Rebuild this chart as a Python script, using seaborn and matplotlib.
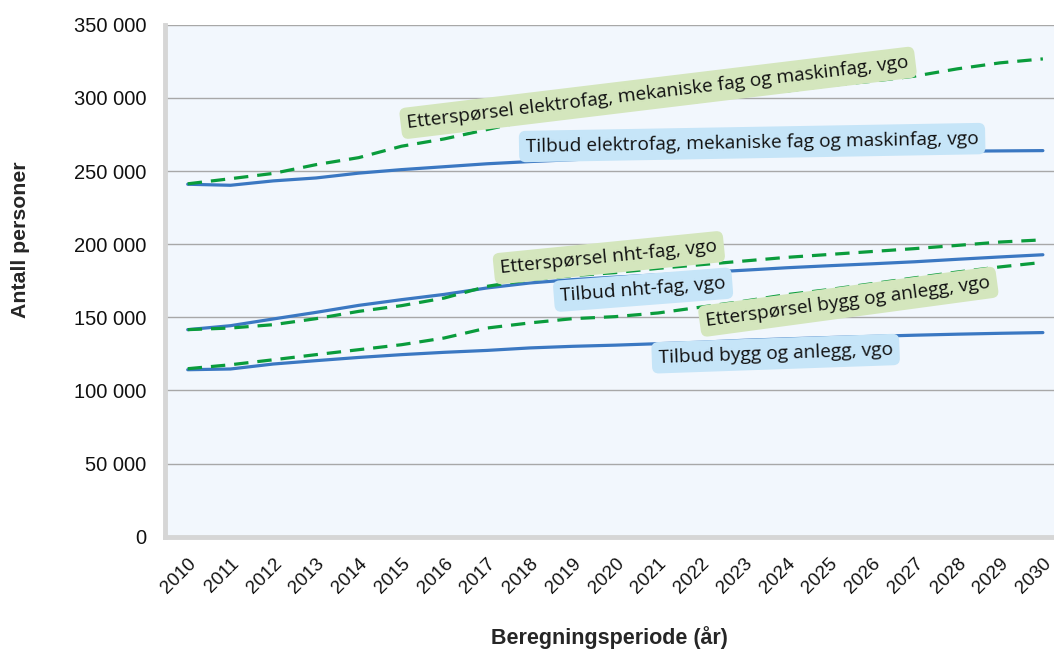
import numpy as np
import pandas as pd
import seaborn as sns
import matplotlib

matplotlib.use("Agg")
import matplotlib.pyplot as plt
from matplotlib.ticker import FuncFormatter

years = [str(y) for y in range(2010, 2031)]

tilbud_elektro = [241000, 240300, 243300, 245300, 248600, 251000, 253000, 255000, 256500, 257800,
                  259100, 260000, 260800, 261500, 262100, 262600, 263000, 263300, 263600, 263800, 264000]
ettersp_elektro = [241300, 244800, 248400, 254400, 259200, 267000, 272000, 278400, 285000, 288600,
                   291200, 294800, 297800, 302300, 304700, 308500, 311400, 314900, 319900, 324000, 326700]
tilbud_nht = [141600, 144300, 148900, 153400, 158200, 162100, 165700, 170100, 173500, 175800,
              177500, 179100, 180600, 182200, 183900, 185300, 186600, 188000, 189700, 191300, 192800]
ettersp_nht = [141600, 142700, 145000, 149100, 154100, 158000, 163200, 171200, 175800, 178500,
               180600, 183500, 186000, 188500, 191000, 193000, 195000, 197000, 199200, 201500, 203000]
tilbud_bygg = [114200, 114700, 118100, 120400, 122600, 124500, 126100, 127400, 129100, 130200,
               131000, 132000, 133000, 134300, 135300, 136200, 137000, 137800, 138500, 139100, 139600]
ettersp_bygg = [114900, 117600, 121000, 124500, 127900, 131300, 135900, 142700, 146200, 149100,
                150500, 153000, 157000, 161000, 165500, 169000, 173000, 177000, 181000, 184500, 187600]

series = [
    ("Tilbud elektrofag, mekaniske fag og maskinfag, vgo", tilbud_elektro, "tilbud"),
    ("Etterspørsel elektrofag, mekaniske fag og maskinfag, vgo", ettersp_elektro, "ettersp"),
    ("Tilbud nht-fag, vgo", tilbud_nht, "tilbud"),
    ("Etterspørsel nht-fag, vgo", ettersp_nht, "ettersp"),
    ("Tilbud bygg og anlegg, vgo", tilbud_bygg, "tilbud"),
    ("Etterspørsel bygg og anlegg, vgo", ettersp_bygg, "ettersp"),
]

# label placement: (x index, y value, rotation)
label_pos = {
    "Etterspørsel elektrofag, mekaniske fag og maskinfag, vgo": (11.0, 303500, 6.9),
    "Tilbud elektrofag, mekaniske fag og maskinfag, vgo": (13.2, 269500, 1.0),
    "Etterspørsel nht-fag, vgo": (9.85, 190800, 5.7),
    "Tilbud nht-fag, vgo": (10.65, 168900, 4.4),
    "Etterspørsel bygg og anlegg, vgo": (15.45, 160700, 7.7),
    "Tilbud bygg og anlegg, vgo": (13.75, 125200, 2.0),
}

BLUE = "#3b78c2"
GREEN = "#0a9c3c"
BOX = {"tilbud": "#c6e5f8", "ettersp": "#d4e6bd"}

sns.set_theme(style="white")
plt.rcParams["font.family"] = ["Liberation Sans", "DejaVu Sans"]

fig = plt.figure(figsize=(10.54, 6.53), dpi=100)
ax = fig.add_axes([0.157, 0.178, 0.843, 0.784])
ax.set_facecolor("#f2f7fd")

idx = np.arange(len(years))
for name, values, kind in series:
    df = pd.DataFrame({"x": idx, "y": values})
    sns.lineplot(data=df, x="x", y="y", ax=ax, color=BLUE if kind == "tilbud" else GREEN,
                 linewidth=2.3, sort=False)
    if kind == "ettersp":
        ax.lines[-1].set_dashes([4.5, 2.8])

for name, values, kind in series:
    lx, ly, rot = label_pos[name]
    ax.text(lx, ly, name, rotation=rot, rotation_mode="anchor",
            ha="center", va="center", fontsize=13.8, family=["Open Sans", "DejaVu Sans"],
            color="#111111", zorder=5,
            bbox=dict(boxstyle="round,pad=0.35,rounding_size=0.35", fc=BOX[kind], ec="none"))

ax.set_xlim(-0.52, 20.26)
ax.set_ylim(0, 350000)
ax.set_yticks(np.arange(0, 350001, 50000))
ax.yaxis.set_major_formatter(FuncFormatter(lambda v, p: f"{int(v):,}".replace(",", " ")))
ax.set_xticks(idx)
ax.set_xticklabels(years, rotation=45, ha="right", rotation_mode="anchor")
ax.tick_params(axis="y", labelsize=14.5, length=0, colors="#111111", pad=14)
ax.tick_params(axis="x", labelsize=13.6, length=0, colors="#111111", pad=13)

ax.grid(axis="y", color="#a8a8a8", linewidth=1.0)
ax.set_axisbelow(True)
for s in ["top", "right"]:
    ax.spines[s].set_visible(False)
ax.spines["left"].set_color("#d6d6d6")
ax.spines["left"].set_linewidth(3.5)
ax.spines["bottom"].set_color("#d6d6d6")
ax.spines["bottom"].set_linewidth(3.5)

ax.set_ylabel("Antall personer", fontsize=15.3, fontweight="bold", labelpad=0)
ax.yaxis.set_label_coords(-0.152, 0.58)
ax.set_xlabel("Beregningsperiode (år)", fontsize=15.5, fontweight="bold")
ax.xaxis.set_label_coords(0.5, -0.175)

fig.savefig("out.png", dpi=100)
